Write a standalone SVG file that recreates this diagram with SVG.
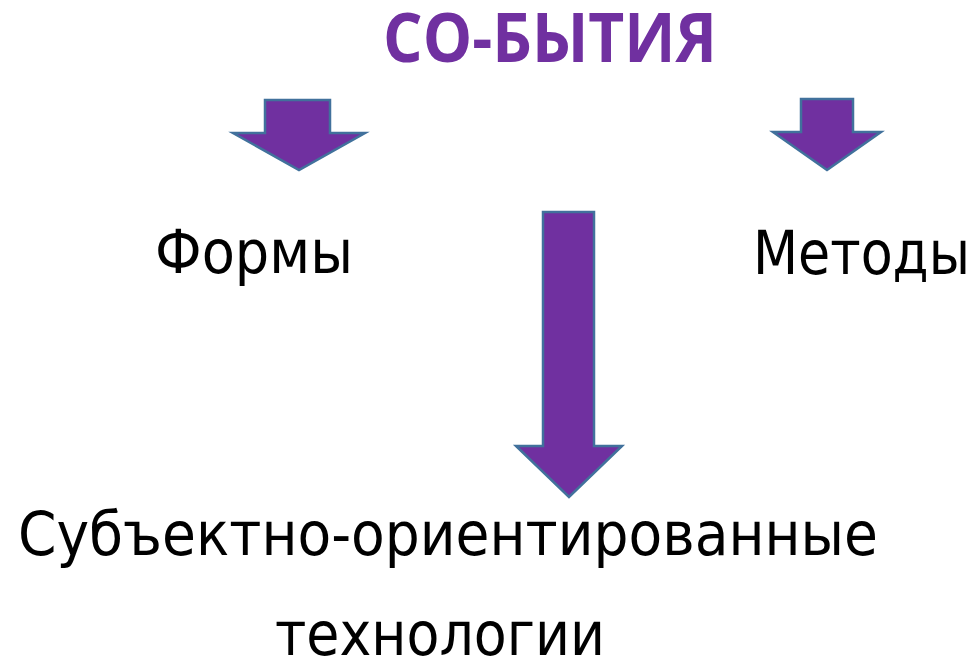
<svg xmlns="http://www.w3.org/2000/svg" width="980" height="663" viewBox="0 0 980 663">
<style>
.arr{fill:#7030A0;stroke:#41719C;stroke-width:2.5;stroke-linejoin:miter}
.t{font-family:"DejaVu Sans",Verdana,sans-serif;font-size:60px;fill:#000}
.title{font-family:"Open Sans",sans-serif;font-weight:bold;font-size:68px;fill:#7030A0}
</style>
<rect width="980" height="663" fill="#fff"/>
<g id="title"><text class="title" x="383" y="62" textLength="334" lengthAdjust="spacingAndGlyphs">СО-БЫТИЯ</text></g>
<g id="formy"><text class="t" x="155" y="273" textLength="198" lengthAdjust="spacingAndGlyphs">Формы</text></g>
<g id="metody"><text class="t" x="753" y="274" textLength="217" lengthAdjust="spacingAndGlyphs">Методы</text></g>
<g id="subj"><text class="t" x="18" y="555" textLength="860" lengthAdjust="spacingAndGlyphs">Субъектно-ориентированные</text>
<text class="t" x="275" y="655" textLength="330" lengthAdjust="spacingAndGlyphs">технологии</text></g>
<g id="connectors">
<polygon class="arr" points="265,100 330,100 330,133 365,133 299,170 233,133 265,133"/>
<polygon class="arr" points="801,99 853,99 853,132 881,132 827,170 773,132 801,132"/>
<polygon class="arr" points="543,212 594,212 594,446 622,446 569,497 516,446 543,446"/>
</g>
</svg>
